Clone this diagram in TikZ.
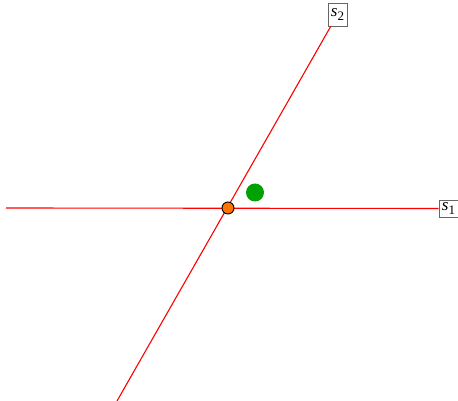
\documentclass[tikz,border=0pt]{standalone}
\usepackage{fontspec}
\setmainfont{Liberation Serif}
\newcommand{\sublbl}[1]{\textit{s}\kern0.3pt\raisebox{-3.5pt}{\fontsize{13}{13}\selectfont #1}}
\begin{document}
\begin{tikzpicture}[x=1pt,y=1pt,
  redline/.style={draw=red,line width=1.1pt},
  lbl/.style={draw=gray!80!black,fill=white,line width=0.8pt,inner sep=0pt,minimum width=19pt,font=\fontsize{17}{19}\selectfont},
  origin/.style={circle,draw=black,fill=orange!90!red,line width=0.9pt,minimum size=12pt,inner sep=0pt},
  gdot/.style={circle,fill=green!63!black,minimum size=18pt,inner sep=0pt}]
\useasboundingbox (0,0) rectangle (458,401);
\coordinate (L) at (6,193);
\coordinate (B) at (117,0);
\node[lbl,minimum height=17pt] (s1) at (448.5,192.5) {\sublbl{1}};
\node[lbl,minimum height=23pt] (s2) at (337.5,386.5) {\sublbl{2}};
\draw[redline] (L) -- (s1.west);
\draw[redline] (B) -- (s2);
\node[gdot] (g) at (255,208.5) {};
\node[origin] (o) at (228,193) {};
\end{tikzpicture}
\end{document}
